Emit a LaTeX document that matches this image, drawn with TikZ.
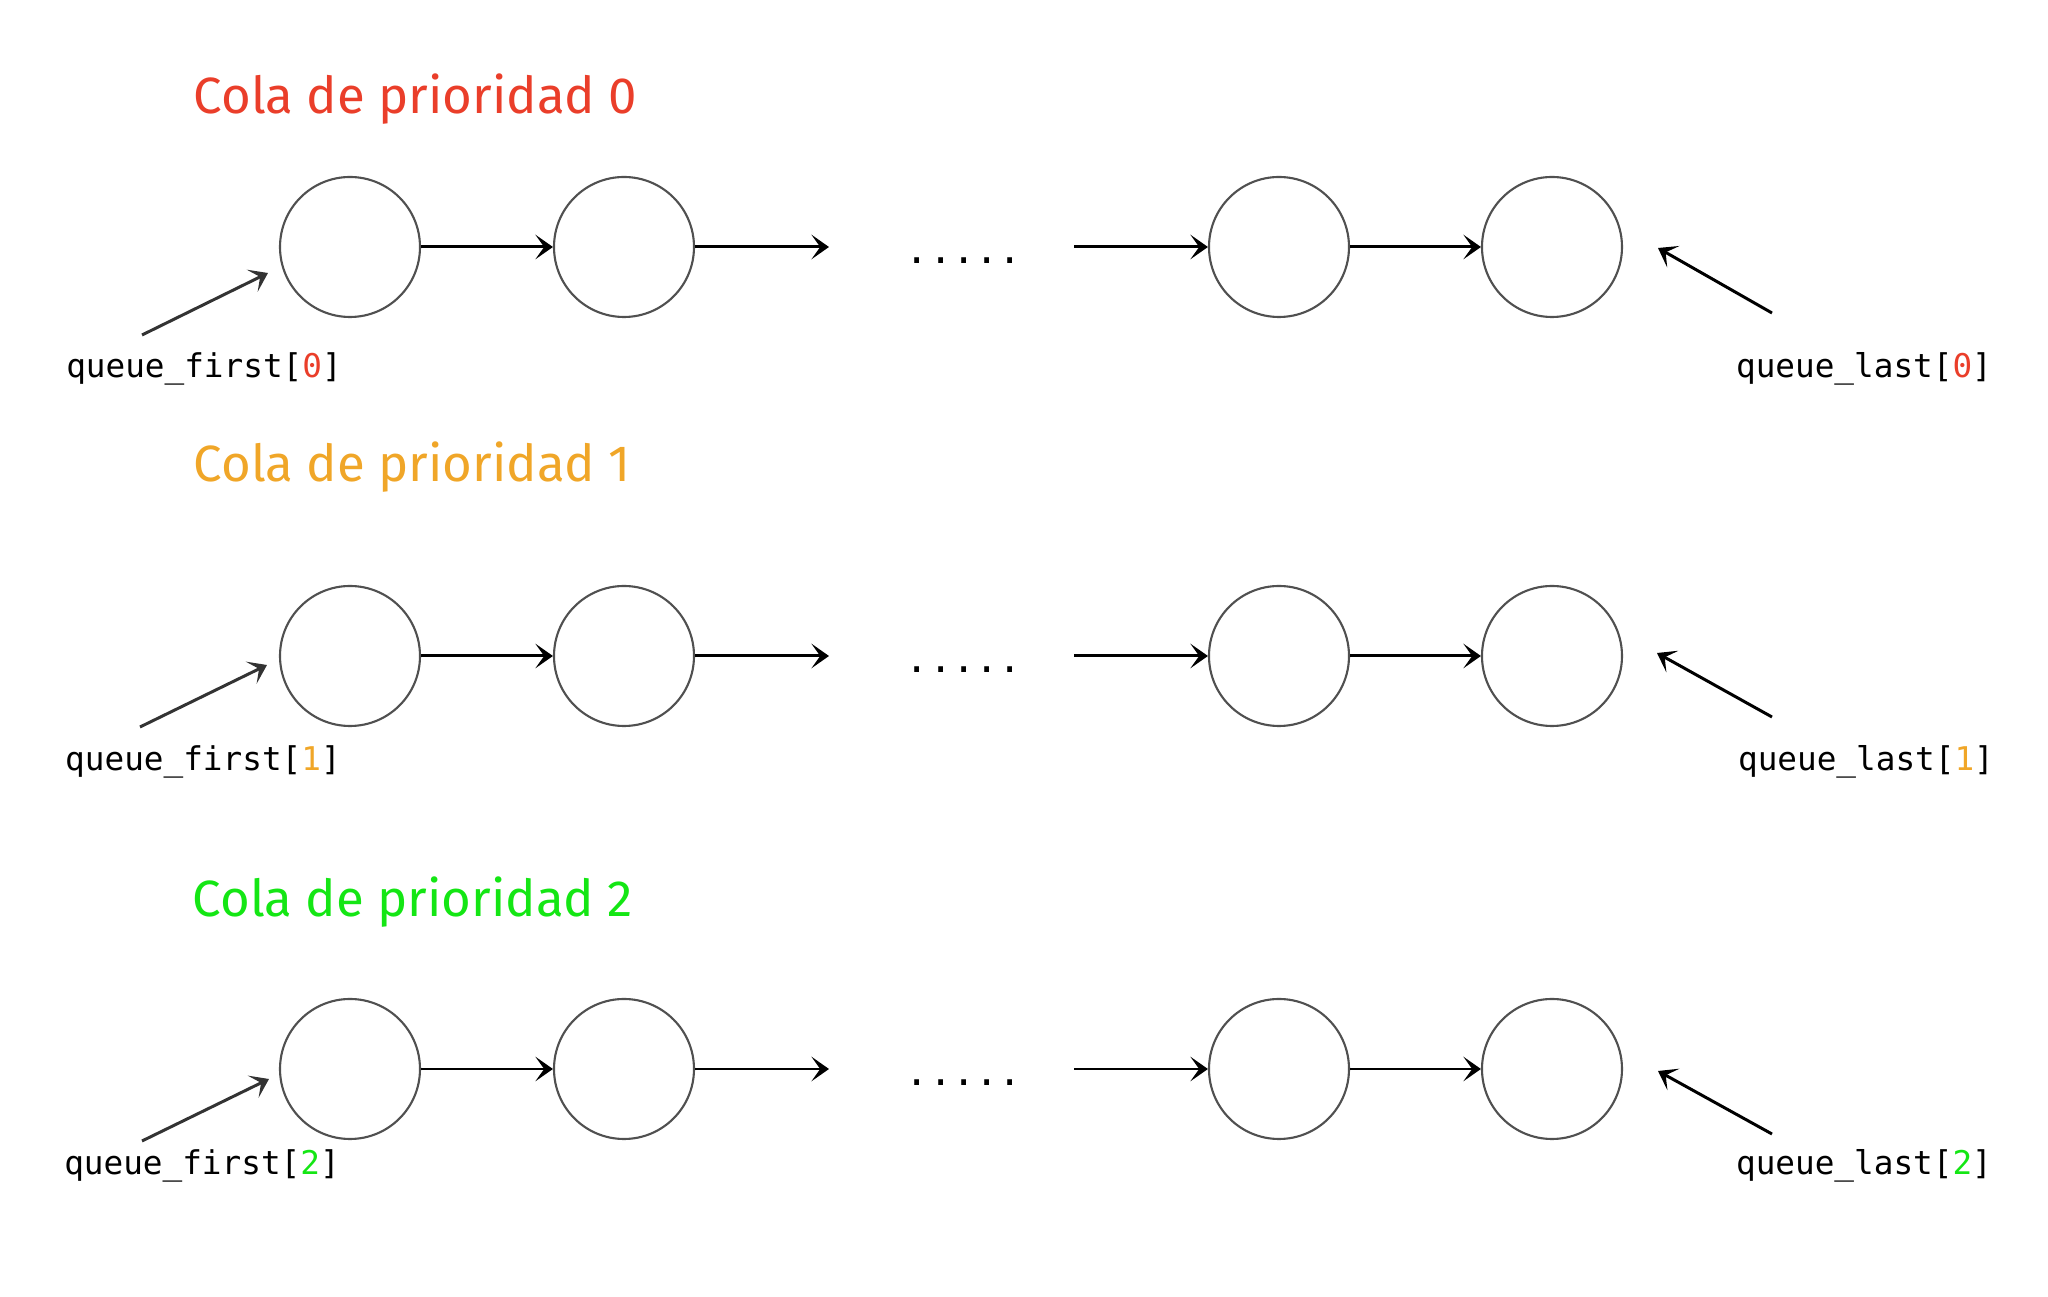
\documentclass[tikz,border=0pt]{standalone}
\usepackage{fontspec}
\setsansfont{Fira Sans}
\setmonofont{DejaVu Sans Mono}
\usetikzlibrary{arrows.meta}
\definecolor{white}{RGB}{255,255,255}
\definecolor{black}{RGB}{0,0,0}
\definecolor{ring_gray}{RGB}{80,80,80}
\definecolor{prio_red}{RGB}{234,62,42}
\definecolor{prio_orange}{RGB}{240,166,40}
\definecolor{prio_green}{RGB}{20,230,20}

\begin{document}
\begin{tikzpicture}[
	elem/.style={circle,draw=ring_gray,fill=white,line width=0.6pt,minimum size=1.4cm,inner sep=0pt},
	link/.style={black,line width=0.85pt,-{Stealth[length=5pt,width=7pt,inset=2.5pt]}},
	ptr/.style={black!80,line width=0.85pt,-{Stealth[length=5pt,width=7pt,inset=2.5pt]}},
	title/.style={anchor=base west,inner sep=0pt,font=\sffamily\fontsize{14.5}{17}\selectfont},
	lbl/.style={font=\ttfamily\fontsize{9.3}{11}\selectfont},
	dots/.style={inner sep=0pt,font=\ttfamily\fontsize{11}{13}\selectfont}]
	\useasboundingbox (0,0) rectangle (20.48,-12.97);

	\node[title,text=prio_red] (t0) at (1.93,-1.14) {Cola de prioridad 0};
	\node[title,text=prio_orange] (t1) at (1.93,-4.82) {Cola de prioridad 1};
	\node[title,text=prio_green] (t2) at (1.92,-9.17) {Cola de prioridad 2};

	\foreach \r/\y in {0/-2.47,1/-6.56,2/-10.69} {
		\node[elem] (\r-1) at (3.50,\y) {};
		\node[elem] (\r-2) at (6.24,\y) {};
		\node[elem] (\r-3) at (12.79,\y) {};
		\node[elem] (\r-4) at (15.52,\y) {};
		\coordinate (\r-out) at (8.29,\y);
		\coordinate (\r-in) at (10.74,\y);
		\node[dots] (\r-dots) at (9.64,\y-0.14) {.....};
	}

	\node[lbl] (0-first) at (2.04,-3.69) {queue\_first[\textcolor{prio_red}{0}]};
	\node[lbl] (0-last) at (18.64,-3.69) {queue\_last[\textcolor{prio_red}{0}]};
	\node[lbl] (1-first) at (2.03,-7.62) {queue\_first[\textcolor{prio_orange}{1}]};
	\node[lbl] (1-last) at (18.66,-7.62) {queue\_last[\textcolor{prio_orange}{1}]};
	\node[lbl] (2-first) at (2.02,-11.66) {queue\_first[\textcolor{prio_green}{2}]};
	\node[lbl] (2-last) at (18.64,-11.66) {queue\_last[\textcolor{prio_green}{2}]};

	\coordinate (0-fs) at (1.42,-3.35);
	\coordinate (0-ft) at (2.68,-2.73);
	\coordinate (0-ls) at (17.72,-3.13);
	\coordinate (0-lt) at (16.58,-2.48);
	\coordinate (1-fs) at (1.40,-7.27);
	\coordinate (1-ft) at (2.67,-6.65);
	\coordinate (1-ls) at (17.72,-7.17);
	\coordinate (1-lt) at (16.57,-6.53);
	\coordinate (2-fs) at (1.42,-11.41);
	\coordinate (2-ft) at (2.69,-10.79);
	\coordinate (2-ls) at (17.72,-11.34);
	\coordinate (2-lt) at (16.58,-10.71);

	\foreach \r in {0,1,2} {
		\foreach \a/\b in {1/2,2/out,in/3,3/4}
			\draw[link] (\r-\a) -- (\r-\b);
		\draw[ptr] (\r-fs) -- (\r-ft);
		\draw[link] (\r-ls) -- (\r-lt);
	}
\end{tikzpicture}
\end{document}
